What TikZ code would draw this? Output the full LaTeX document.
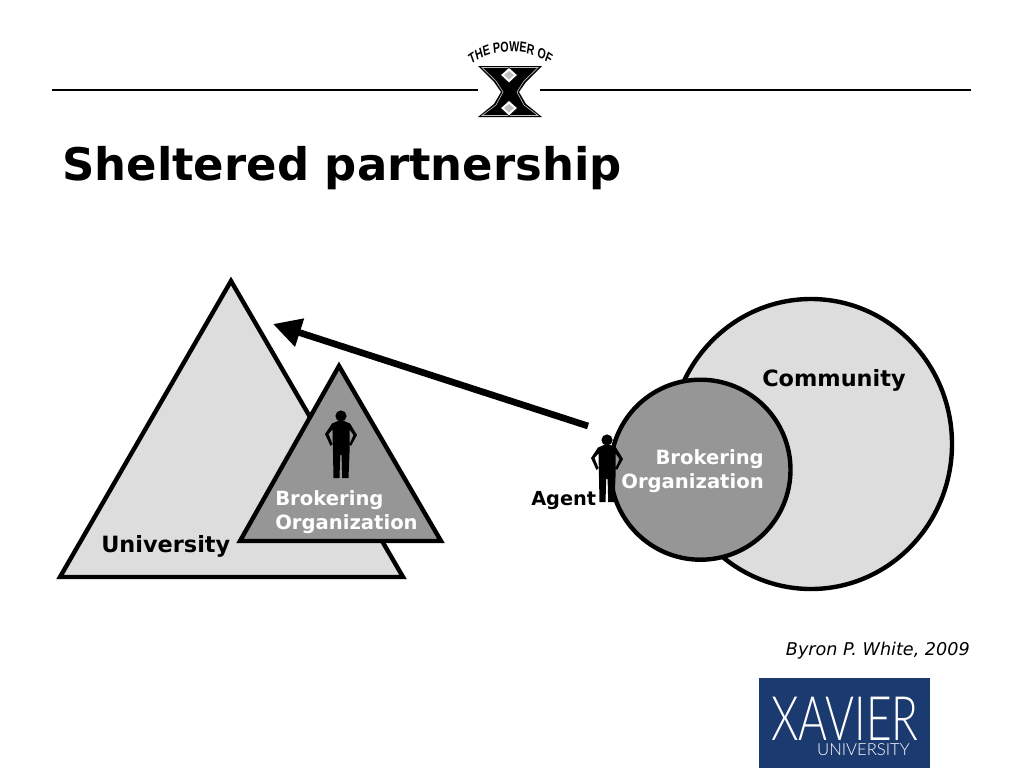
\documentclass[tikz,border=0pt]{standalone}
\usepackage{fontspec}
\setmainfont{DejaVu Sans}
\newfontfamily\logofont{Lato Light}
\newfontfamily\sloganfont{Liberation Sans}
\usetikzlibrary{arrows.meta,decorations.text}
\definecolor{lightfill}{HTML}{DDDDDD}
\definecolor{darkfill}{HTML}{969696}
\definecolor{navy}{HTML}{1B3A70}
\tikzset{
  x=0.75pt,y=-0.75pt,
  shapeline/.style={draw=black,line width=3.3pt,line join=miter},
  rule/.style={draw=black,line width=2.1pt},
  label/.style={anchor=base west,inner sep=0pt,font=\bfseries\fontsize{16.8}{20}\selectfont},
  whitelabel/.style={anchor=base west,inner sep=0pt,text=white,font=\bfseries\fontsize{14.7}{18}\selectfont},
  pics/person/.style={code={
    \fill[black] (0,0) circle (5.6);
    \fill[black] (-3,5) -- (3,5) -- (9,7.5) -- (16,19) -- (10,30) -- (8.5,28) -- (12.5,19) -- (8.5,13.5)
      -- (8.5,37) -- (7.5,62) -- (1.2,62) -- (0.6,39) -- (-0.8,39) -- (-1.5,62) -- (-7.5,62) -- (-8,37)
      -- (-8.5,13.5) -- (-12.5,18) -- (-8.5,28) -- (-10.5,30) -- (-16,18) -- (-9,7.5) -- cycle;
  }}
}
\begin{document}
\begin{tikzpicture}
\useasboundingbox (0,0) rectangle (1024,768);
% header rules
\coordinate (ruleLa) at (52,90); \coordinate (ruleLb) at (478,90);
\coordinate (ruleRa) at (540,90); \coordinate (ruleRb) at (971,90);
\draw[rule] (ruleLa) -- (ruleLb);
\draw[rule] (ruleRa) -- (ruleRb);
% logo slogan and X
\begin{scope}[transform canvas={shift={(510.5,0)},xscale=0.74,shift={(-510.5,0)}}]
\path[decorate,decoration={text along path,text align=center,
  text={|\sloganfont\bfseries\fontsize{10.8}{12}\selectfont|THE POWER OF}}]
  (451,68) .. controls (482,46) and (539,46) .. (570,68);
\end{scope}
\fill[black] (478,66) -- (542,66) -- (526,82) -- (519,92) -- (526,104) -- (542,117) -- (478,117) -- (494,104) -- (501,92) -- (494,82) -- cycle;
\draw[white!75!black,line width=0.5pt] (482,67.5) -- (538,67.5) -- (524,81) -- (517,92) -- (524,105) -- (538,115.5) -- (482,115.5) -- (496,105) -- (503,92) -- (496,81) -- cycle;
\fill[white,draw=black,line width=0.4pt] (509,67.5) -- (517.5,75) -- (509,83) -- (500.5,75) -- cycle;
\fill[black!25] (509,71) -- (514,75) -- (509,79.5) -- (504,75) -- cycle;
\fill[white,draw=black,line width=0.4pt] (509,100.5) -- (517.5,108) -- (509,116) -- (500.5,108) -- cycle;
\fill[black!25] (509,104) -- (514,108) -- (509,112.5) -- (504,108) -- cycle;
% title
\node[anchor=base west,inner sep=0pt,font=\bfseries\fontsize{33.7}{42}\selectfont] (title) at (62,180) {Sheltered partnership};
% university
\draw[shapeline,fill=lightfill] (231,281) -- (403,577) -- (60,577) -- cycle;
\draw[shapeline,fill=darkfill] (339,366) -- (441,541) -- (240,541) -- cycle;
\pic at (341,416) {person};
\node[label] (uni) at (101,552) {University};
\node[whitelabel] (bro1a) at (275,505) {Brokering};
\node[whitelabel] (bro1b) at (275,529) {Organization};
% community
\draw[shapeline,fill=lightfill] (811,444) ellipse [x radius=141,y radius=145];
\draw[shapeline,fill=darkfill] (700.5,469.7) circle (90);
\node[label] (comm) at (762,386) {Community};
\node[whitelabel,anchor=base east] (bro2a) at (764,464) {Brokering};
\node[whitelabel,anchor=base east] (bro2b) at (764,488) {Organization};
\pic at (607,440) {person};
\node[label,font=\bfseries\fontsize{14.5}{18}\selectfont] (agent) at (531,505) {Agent};
% arrow
\coordinate (arrowStart) at (588,426);
\coordinate (arrowEnd) at (273,324);
\draw[black,line width=5pt,-{Triangle[length=21pt,width=21pt]}] (arrowStart) -- (arrowEnd);
% credit
\node[anchor=base east,inner sep=0pt,font=\itshape\fontsize{13.2}{16}\selectfont] (credit) at (970,655) {Byron P. White, 2009};
% Xavier logo
\fill[navy] (759,678) rectangle (930,768);
\node[anchor=base,inner sep=0pt,text=white,transform shape,xscale=0.72,font=\logofont\fontsize{46}{50}\selectfont] (xav) at (845,740) {XAVIER};
\node[anchor=base east,inner sep=0pt,text=white,font=\logofont\fontsize{12.5}{15}\selectfont] (xuni) at (910,755) {UNIVERSITY};
\end{tikzpicture}
\end{document}
